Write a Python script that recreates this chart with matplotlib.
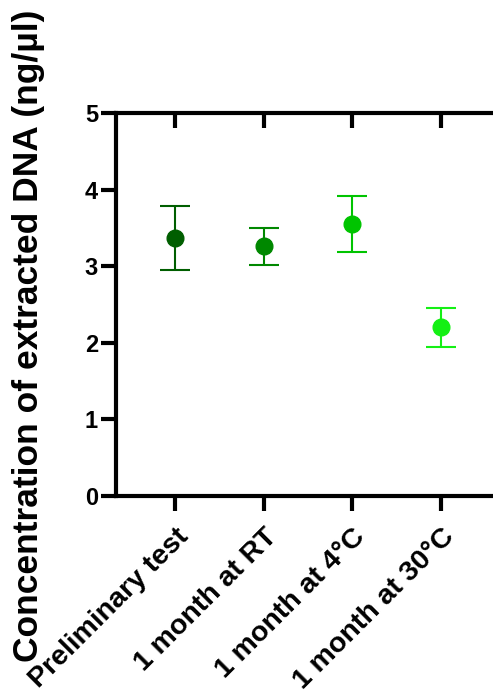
import matplotlib.pyplot as plt

plt.rcParams['font.family'] = ['Liberation Sans', 'DejaVu Sans']
plt.rcParams['font.weight'] = 'bold'

# data
groups = ['Preliminary test', '1 month at RT', '1 month at 4°C', '1 month at 30°C']
means = [3.37, 3.26, 3.55, 2.20]
err_low = [0.42, 0.24, 0.37, 0.25]
err_high = [0.41, 0.24, 0.37, 0.25]
colors = ['#005e00', '#008800', '#00c400', '#14f014']

fig = plt.figure(figsize=(4.93, 6.95), dpi=100)
ax = fig.add_axes([116 / 493, (695 - 496) / 695, (500 - 116) / 493, (496 - 113) / 695])

for i, (m, lo, hi, c) in enumerate(zip(means, err_low, err_high, colors)):
    ax.errorbar(i, m, yerr=[[lo], [hi]], fmt='o', color=c, ecolor=c,
                markersize=12, elinewidth=1.5, capsize=11, capthick=1.5)

ax.set_xlim(-0.67, 3.67)
ax.set_ylim(0, 5)
ax.set_yticks([0, 1, 2, 3, 4, 5])
ax.set_xticks(range(len(groups)))
ax.set_xticklabels(groups, rotation=45, ha='right', rotation_mode='anchor', fontsize=20.5)
ax.set_ylabel('Concentration of extracted DNA (ng/µl)', fontsize=25.5, fontweight='bold')
ax.yaxis.set_label_coords(-0.185, 0.418)

for s in ax.spines.values():
    s.set_linewidth(3)
ax.tick_params(axis='both', which='major', length=11, width=3)
ax.tick_params(axis='x', labelsize=20.5, pad=9)
ax.tick_params(axis='y', labelsize=17, pad=2)
ax.tick_params(top=True, right=True, labeltop=False, labelright=False)
# top and right ticks point inward
for t in ax.xaxis.get_major_ticks():
    t.tick2line.set_marker(3)
for t in ax.yaxis.get_major_ticks():
    t.tick2line.set_marker(4)

fig.savefig('out.png', dpi=100)
